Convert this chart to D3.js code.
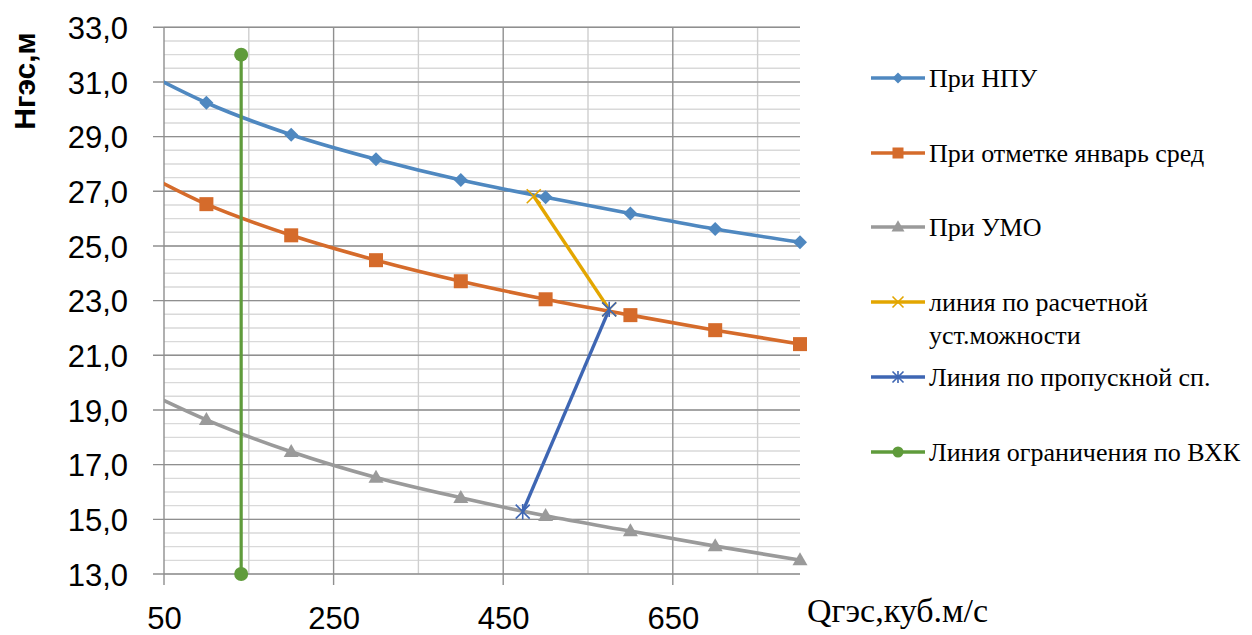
<!DOCTYPE html>
<html>
<head>
<meta charset="utf-8">
<script src="https://cdn.jsdelivr.net/npm/d3@7"></script>
<style>
  body { margin: 0; background: #fff; }
  svg { display: block; }
</style>
</head>
<body>
<svg id="chart" width="1252" height="635"></svg>
<script>
// Discharge Q (m³/s) and head H (m) for each operating curve
const qCurve = [0, 100, 200, 300, 400, 500, 600, 700, 800];
const hNpu   = [31.8, 30.24, 29.07, 28.17, 27.41, 26.78, 26.19, 25.62, 25.14];
const hJan   = [28.1, 26.53, 25.39, 24.48, 23.71, 23.05, 22.47, 21.92, 21.41];
const hUmo   = [20.1, 18.64, 17.47, 16.53, 15.79, 15.13, 14.57, 14.02, 13.51];

// Installed-capacity line and throughput line
const qCapacity   = [486, 575];
const hCapacity   = [26.82, 22.68];
const qThroughput = [473, 575];
const hThroughput = [15.28, 22.68];

// Water-management constraint line
const qLimit = [141, 141];
const hLimit = [13, 32];

// Axis ticks
const xTicks = [50, 250, 450, 650];
const xMinor = [150, 350, 550, 750];
const yTicks = [13, 15, 17, 19, 21, 23, 25, 27, 29, 31, 33];

const seriesNames = [
  "При НПУ",
  "При отметке январь сред",
  "При УМО",
  ["линия по расчетной", "уст.можности"],
  "Линия по пропускной сп.",
  "Линия ограничения по ВХК"
];

const colors = {
  npu: "#4f88c0",
  jan: "#d56b2b",
  umo: "#9a9a9a",
  cap: "#e3a600",
  thr: "#3e66b3",
  lim: "#5f9b3b"
};

const svg = d3.select("#chart");
const margin = { left: 164, right: 800, top: 27.3, bottom: 574 };

const x = d3.scaleLinear().domain([50, 800]).range([margin.left, margin.right]);
const y = d3.scaleLinear().domain([13, 33]).range([margin.bottom, margin.top]);

// Clip region for the curves
svg.append("defs").append("clipPath").attr("id", "plotClip")
  .append("rect")
  .attr("x", margin.left).attr("y", margin.top - 2)
  .attr("width", margin.right - margin.left)
  .attr("height", margin.bottom - margin.top + 4);

const grid = svg.append("g");

// Horizontal minor gridlines every 0.5 m
const yMinor = d3.range(13, 33.01, 0.5);
grid.selectAll("line.hminor").data(yMinor).join("line")
  .attr("x1", margin.left).attr("x2", margin.right)
  .attr("y1", d => y(d)).attr("y2", d => y(d))
  .attr("stroke", "#d9d9d9").attr("stroke-width", 1.4);

// Vertical minor gridlines
grid.selectAll("line.vminor").data(xMinor).join("line")
  .attr("x1", d => x(d)).attr("x2", d => x(d))
  .attr("y1", margin.top).attr("y2", margin.bottom)
  .attr("stroke", "#cfcfcf").attr("stroke-width", 1.4);

// Vertical major gridlines with ticks below the axis
grid.selectAll("line.vmajor").data(xTicks).join("line")
  .attr("x1", d => x(d)).attr("x2", d => x(d))
  .attr("y1", margin.top).attr("y2", margin.bottom + 11)
  .attr("stroke", "#8f8f8f").attr("stroke-width", 1.4);

// Horizontal major gridlines with ticks left of the axis
grid.selectAll("line.hmajor").data(yTicks).join("line")
  .attr("x1", margin.left - 11).attr("x2", margin.right)
  .attr("y1", d => y(d)).attr("y2", d => y(d))
  .attr("stroke", "#8f8f8f").attr("stroke-width", 1.4);

// Axis labels
const fmt = d => d3.format(".1f")(d).replace(".", ",");
const yAxis = d3.axisLeft(y).tickValues(yTicks).tickFormat(fmt).tickSize(0).tickPadding(36);
const yg = svg.append("g").attr("transform", `translate(${margin.left},0)`).call(yAxis);
yg.select(".domain").remove();
yg.selectAll("text")
  .attr("font-family", "Liberation Sans, Arial, sans-serif")
  .attr("font-size", 31).attr("fill", "#000")
  .attr("dy", "0.36em");

const xAxis = d3.axisBottom(x).tickValues(xTicks).tickFormat(d3.format("d")).tickSize(0).tickPadding(33);
const xg = svg.append("g").attr("transform", `translate(0,${margin.bottom})`).call(xAxis);
xg.select(".domain").remove();
xg.selectAll("text")
  .attr("font-family", "Liberation Sans, Arial, sans-serif")
  .attr("font-size", 31).attr("fill", "#000");

// Axis titles
svg.append("text")
  .attr("transform", "translate(35,81) rotate(-90)")
  .attr("text-anchor", "middle")
  .attr("font-family", "Liberation Sans, Arial, sans-serif")
  .attr("font-weight", "bold").attr("font-size", 30)
  .text("Нгэс,м");

svg.append("text")
  .attr("x", 807).attr("y", 622)
  .attr("font-family", "Liberation Serif, Times New Roman, serif")
  .attr("font-size", 34)
  .text("Qгэс,куб.м/с");

// Marker drawing helpers
function drawMarker(g, type, cx, cy, color, s) {
  if (type === "diamond") {
    g.append("path").attr("d", d3.symbol(d3.symbolSquare, s * s / 2)())
      .attr("transform", `translate(${cx},${cy}) rotate(45)`).attr("fill", color);
  } else if (type === "square") {
    g.append("rect").attr("x", cx - s / 2).attr("y", cy - s / 2)
      .attr("width", s).attr("height", s).attr("fill", color);
  } else if (type === "triangle") {
    const h = s * 0.87;
    g.append("path")
      .attr("d", `M${cx},${cy - h * 0.6}L${cx + s / 2},${cy + h * 0.4}L${cx - s / 2},${cy + h * 0.4}Z`)
      .attr("fill", color);
  } else if (type === "circle") {
    g.append("circle").attr("cx", cx).attr("cy", cy).attr("r", s / 2).attr("fill", color);
  } else if (type === "x" || type === "star") {
    const r = s / 2;
    g.append("path")
      .attr("d", `M${cx - r},${cy - r}L${cx + r},${cy + r}M${cx - r},${cy + r}L${cx + r},${cy - r}` +
        (type === "star" ? `M${cx},${cy - r * 1.1}L${cx},${cy + r * 1.1}` : ""))
      .attr("stroke", color).attr("stroke-width", 1.6).attr("fill", "none");
  }
}

const series = [
  { q: qCurve, h: hNpu, color: colors.npu, marker: "diamond", size: 14, curve: d3.curveMonotoneX, width: 3.6 },
  { q: qCurve, h: hJan, color: colors.jan, marker: "square", size: 14, curve: d3.curveMonotoneX, width: 3.6 },
  { q: qCurve, h: hUmo, color: colors.umo, marker: "triangle", size: 15, curve: d3.curveMonotoneX, width: 3.6 },
  { q: qCapacity, h: hCapacity, color: colors.cap, marker: "x", size: 14, curve: d3.curveLinear, width: 3.4 },
  { q: qThroughput, h: hThroughput, color: colors.thr, marker: "star", size: 14, curve: d3.curveLinear, width: 3.4 },
  { q: qLimit, h: hLimit, color: colors.lim, marker: "circle", size: 14, curve: d3.curveLinear, width: 3.2 }
];

const plot = svg.append("g");
const markerLayer = svg.append("g");

series.forEach(s => {
  const pts = s.q.map((q, i) => [q, s.h[i]]);
  const line = d3.line().x(d => x(d[0])).y(d => y(d[1])).curve(s.curve);
  plot.append("path").datum(pts)
    .attr("clip-path", "url(#plotClip)")
    .attr("d", line)
    .attr("fill", "none").attr("stroke", s.color)
    .attr("stroke-width", s.width).attr("stroke-linejoin", "round");
});

// Markers drawn on top, only for points inside the discharge range
series.forEach(s => {
  s.q.forEach((q, i) => {
    if (q < 50 || q > 800) return;
    drawMarker(markerLayer, s.marker, x(q), y(s.h[i]), s.color, s.size);
  });
});

// Legend
const legend = svg.append("g");
const rowY = [78, 153, 227, 302, 377, 452];
series.forEach((s, i) => {
  const cy = rowY[i];
  legend.append("line")
    .attr("x1", 871).attr("x2", 925).attr("y1", cy).attr("y2", cy)
    .attr("stroke", s.color).attr("stroke-width", 3.4);
  drawMarker(legend, s.marker, 898, cy, s.color, s.marker === "triangle" ? 13 : 11);
  const names = Array.isArray(seriesNames[i]) ? seriesNames[i] : [seriesNames[i]];
  const t = legend.append("text")
    .attr("x", 929).attr("y", cy + 9)
    .attr("font-family", "Liberation Serif, Times New Roman, serif")
    .attr("font-size", 26).attr("fill", "#000");
  names.forEach((n, k) => {
    t.append("tspan").attr("x", 929).attr("dy", k === 0 ? 0 : 33).text(n);
  });
});
</script>
</body>
</html>
